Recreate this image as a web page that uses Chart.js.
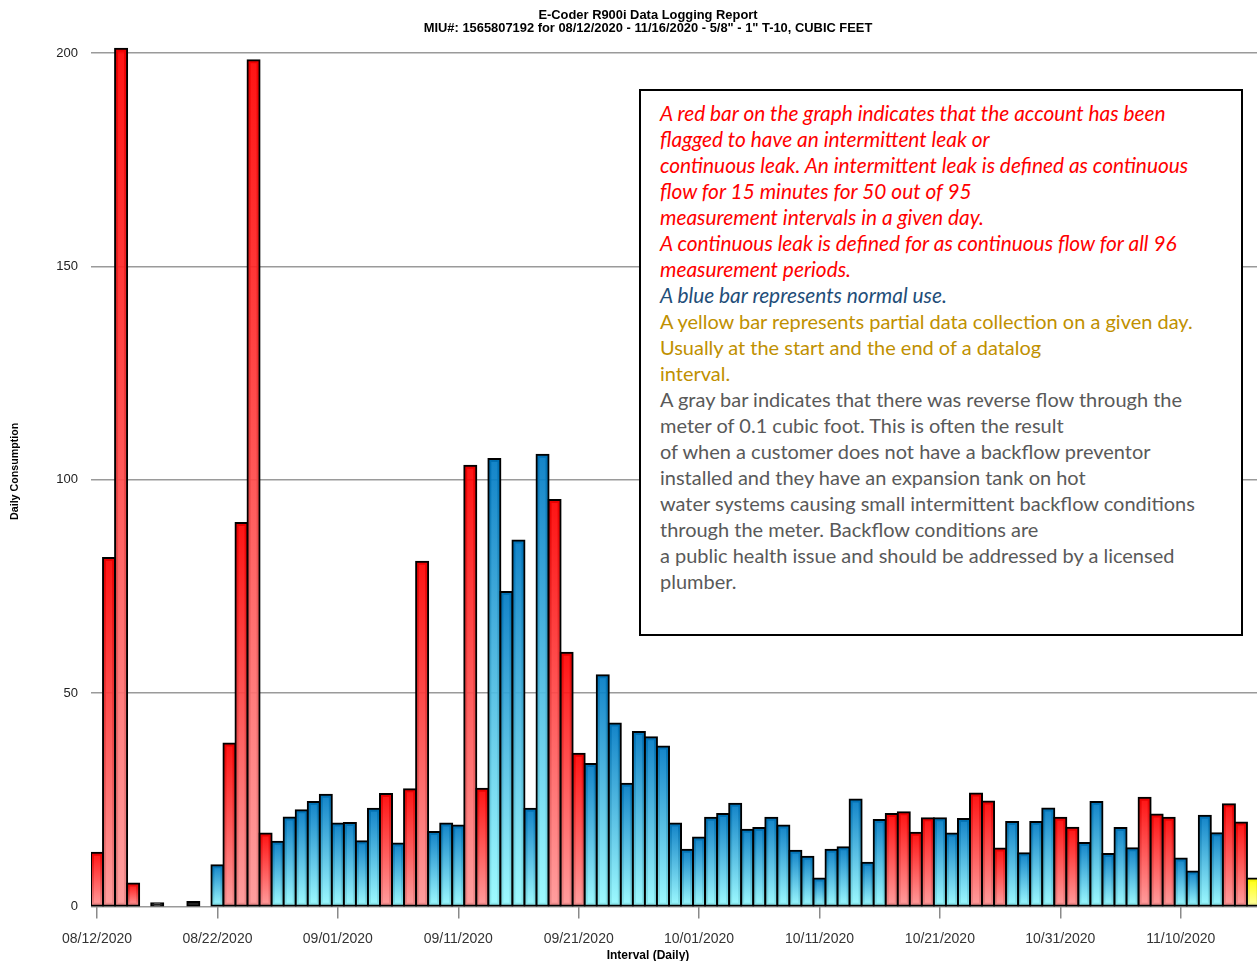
<!DOCTYPE html>
<html>
<head>
<meta charset="utf-8">
<script src="https://cdn.jsdelivr.net/npm/chart.js@4.4.1/dist/chart.umd.min.js"></script>
<style>
html,body{margin:0;padding:0;background:#fff;overflow:hidden;width:1257px;height:961px;}
#wrap{position:relative;width:1257px;height:961px;overflow:hidden;}
#c{position:absolute;left:0;top:0;}
#note{position:absolute;left:639px;top:89px;width:600px;height:543px;border:2px solid #000;background:#fff;font-family:Lato,'Open Sans',sans-serif;font-size:18px;}
#note .ln{position:absolute;left:19px;white-space:nowrap;line-height:26px;height:26px;}
#note .r{color:#ff0000;font-style:italic;}
#note .b{color:#1f4e79;font-style:italic;}
#note .y{color:#bf9000;}
#note .g{color:#595959;}
</style>
</head>
<body>
<div id="wrap">
<canvas id="c" width="1296" height="972"></canvas>
<div id="note"></div>
</div>
<script>
// ---- data ----
const titleLines = ['E-Coder R900i Data Logging Report', 'MIU#: 1565807192 for 08/12/2020 - 11/16/2020 - 5/8" - 1" T-10, CUBIC FEET'];
const yTitle = 'Daily Consumption';
const xTitle = 'Interval (Daily)';
const startDay = [2020, 8, 12];
const dayCount = 97;
const tickLabels = ['08/12/2020','08/22/2020','09/01/2020','09/11/2020','09/21/2020','10/01/2020','10/11/2020','10/21/2020','10/31/2020','11/10/2020'];
const yTicks = [0, 50, 100, 150, 200];
const consumption = [
  12.6, 81.7, 201.0, 5.4, null, 0.8, null, null, 1.1, null,
  9.7, 38.2, 89.9, 198.3, 17.1, 15.2, 20.9, 22.6, 24.5, 26.2,
  19.5, 19.6, 15.3, 22.9, 26.4, 14.8, 27.5, 80.8, 17.5, 19.5,
  19.0, 103.3, 27.6, 104.9, 73.7, 85.8, 22.9, 105.9, 95.3, 59.5,
  35.8, 33.4, 54.2, 42.9, 28.8, 40.9, 39.7, 37.5, 19.5, 13.3,
  16.2, 20.8, 21.7, 24.1, 18.0, 18.4, 20.8, 19.0, 13.1, 11.7,
  6.6, 13.3, 13.9, 25.1, 10.3, 20.3, 21.7, 22.1, 17.3, 20.7,
  20.7, 17.1, 20.5, 26.5, 24.6, 13.6, 19.8, 12.5, 19.8, 23.0,
  20.8, 18.5, 14.9, 24.5, 12.3, 18.4, 13.7, 25.5, 21.6, 20.8,
  11.3, 8.2, 21.3, 17.2, 24.0, 19.7, 6.6
];
// R = leak (red), B = normal (blue), Y = partial (yellow), K = tiny/reverse
const status = [
  'R','R','R','R','-','K','-','-','K','-',
  'B','R','R','R','R','B','B','B','B','B',
  'B','B','B','B','R','B','R','R','B','B',
  'B','R','R','B','B','B','B','B','R','R',
  'R','B','B','B','B','B','B','B','B','B',
  'B','B','B','B','B','B','B','B','B','B',
  'B','B','B','B','B','B','R','R','R','R',
  'B','B','B','R','R','R','B','B','B','B',
  'R','R','B','B','B','B','B','R','R','R',
  'B','B','B','B','R','R','Y'
];
const noteLines = [
  ['r','A red bar on the graph indicates that the account has been'],
  ['r','flagged to have an intermittent leak or'],
  ['r','continuous leak. An intermittent leak is defined as continuous'],
  ['r','flow for 15 minutes for 50 out of 95'],
  ['r','measurement intervals in a given day.'],
  ['r','A continuous leak is defined for as continuous flow for all 96'],
  ['r','measurement periods.'],
  ['b','A blue bar represents normal use.'],
  ['y','A yellow bar represents partial data collection on a given day.'],
  ['y','Usually at the start and the end of a datalog'],
  ['y','interval.'],
  ['g','A gray bar indicates that there was reverse flow through the'],
  ['g','meter of 0.1 cubic foot. This is often the result'],
  ['g','of when a customer does not have a backflow preventor'],
  ['g','installed and they have an expansion tank on hot'],
  ['g','water systems causing small intermittent backflow conditions'],
  ['g','through the meter. Backflow conditions are'],
  ['g','a public health issue and should be addressed by a licensed'],
  ['g','plumber.']
];

// ---- categories (calendar days) ----
const categories = [];
{
  const d = new Date(startDay[0], startDay[1]-1, startDay[2]);
  for (let i = 0; i < dayCount; i++) {
    const mm = String(d.getMonth()+1).padStart(2,'0');
    const dd = String(d.getDate()).padStart(2,'0');
    categories.push(mm + '/' + dd + '/' + d.getFullYear());
    d.setDate(d.getDate()+1);
  }
}

// ---- note box (HTML text) ----
const note = document.getElementById('note');
noteLines.forEach((l, i) => {
  const s = document.createElement('div');
  s.className = 'ln ' + l[0];
  s.style.top = (9 + i*26) + 'px';
  s.textContent = l[1];
  note.appendChild(s);
});
{
  const lines = Array.from(note.children);
  const wUp = lines[8].getBoundingClientRect().width;
  const wIt = lines[0].getBoundingClientRect().width;
  const fsUp = wUp > 0 ? 18 * 533 / wUp : 18;
  const fsIt = wIt > 0 ? 18 * 506 / wIt : 18;
  lines.forEach((el, i) => {
    const k = noteLines[i][0];
    el.style.fontSize = ((k === 'r' || k === 'b') ? fsIt : fsUp).toFixed(2) + 'px';
  });
}

// ---- bar fills ----
const palette = {
  R: ['rgba(255,0,0,0.92)', 'rgba(255,150,150,0.92)'],
  B: ['rgba(0,122,196,0.92)', 'rgba(150,250,255,0.92)'],
  Y: ['rgba(255,255,0,0.95)', 'rgba(255,255,160,0.95)'],
  K: ['#222', '#222']
};
function barFill(ctx) {
  const st = status[ctx.dataIndex];
  const pal = palette[st] || palette.B;
  const chart = ctx.chart;
  const ys = chart.scales && chart.scales.y;
  const v = ctx.raw;
  if (!ys || v == null) return pal[0];
  const top = ys.getPixelForValue(v), base = ys.getPixelForValue(0);
  if (!isFinite(top) || !isFinite(base) || base - top < 1) return pal[0];
  const g = chart.ctx.createLinearGradient(0, top, 0, base);
  g.addColorStop(0, pal[0]);
  g.addColorStop(1, pal[1]);
  return g;
}

const FONT = "'Liberation Sans', Arial, sans-serif";

new Chart(document.getElementById('c'), {
  type: 'bar',
  data: {
    labels: categories,
    datasets: [{
      data: consumption,
      backgroundColor: barFill,
      borderColor: '#000',
      borderWidth: 2,
      borderSkipped: false,
      inflateAmount: 1,
      barPercentage: 1,
      categoryPercentage: 1
    }]
  },
  options: {
    responsive: false,
    animation: false,
    events: [],
    layout: { padding: { left: 37, right: 37, top: 0, bottom: 0 } },
    plugins: {
      legend: { display: false },
      tooltip: { enabled: false },
      title: {
        display: true, text: titleLines, color: '#000',
        font: { family: FONT, size: 12.9, weight: 'bold', lineHeight: '13px' },
        padding: { top: 9, bottom: 1 }
      },
      subtitle: {
        display: true, position: 'bottom', text: xTitle, color: '#000',
        font: { family: FONT, size: 12, weight: 'bold', lineHeight: 1.2 },
        padding: { top: 0, bottom: 9 }
      }
    },
    scales: {
      x: {
        offset: true,
        grid: {
          offset: false, drawOnChartArea: false, drawTicks: true, tickLength: 12, lineWidth: 1.5,
          color: c => (tickLabels.includes(categories[c.index]) ? '#8a8a8a' : 'rgba(0,0,0,0)')
        },
        border: { display: false },
        ticks: {
          autoSkip: false, maxRotation: 0, minRotation: 0, padding: 12, color: '#333',
          font: { family: FONT, size: 14 },
          callback: (v, i) => (tickLabels.includes(categories[i]) ? categories[i] : '')
        },
        afterFit: s => { s.height = 42; }
      },
      y: {
        min: 0, max: 204,
        ticks: { stepSize: 50, padding: 13, color: '#222', font: { family: FONT, size: 13 } },
        afterBuildTicks: s => { s.ticks = yTicks.map(v => ({ value: v })); },
        grid: { color: '#9a9a9a', lineWidth: 1.5, drawTicks: false },
        border: { display: false },
        title: {
          display: true, text: yTitle, color: '#000',
          font: { family: FONT, size: 10.7, weight: 'bold' },
          padding: { top: -28.4, bottom: 0 }
        },
        afterFit: s => { s.width = 54; }
      }
    }
  }
});
</script>
</body>
</html>
